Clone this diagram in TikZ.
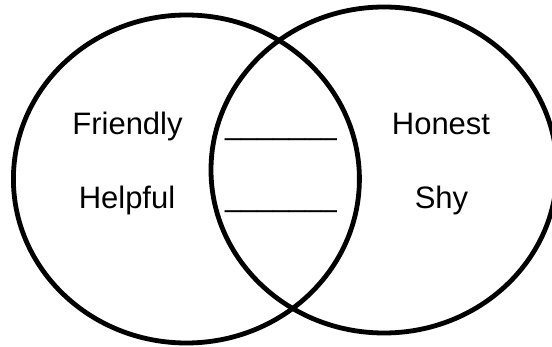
\documentclass[tikz,border=0pt]{standalone}
\usepackage{fontspec}
\setmainfont{Liberation Sans}
\usetikzlibrary{shapes.geometric}
\tikzset{
  setring/.style={ellipse, draw=black, line width=4.8pt, inner sep=0pt, outer sep=0pt},
  label/.style={anchor=base, inner sep=0pt, font=\fontsize{31}{31}\selectfont},
  blank/.style={anchor=base, inner sep=0pt, font=\fontsize{31}{31}\selectfont}
}
\begin{document}
\begin{tikzpicture}[x=1pt, y=-1pt]
  \clip (0,0) rectangle (552,347);
  \fill[white] (0,0) rectangle (552,347);
  \node[setring, minimum width=346pt, minimum height=328pt] (L) at (186.4,179) {};
  \node[setring, minimum width=346pt, minimum height=326pt] (R) at (384,170) {};
  \node[label] (friendly) at (127.5,135) {Friendly};
  \node[label] (helpful) at (127,209) {Helpful};
  \node[label] (honest) at (441,135) {Honest};
  \node[label] (shy) at (441.5,208.5) {Shy};
  \node[blank] (b1) at (281,135) {\scalebox{0.925}[1]{\_\_\_\_\_\_\_}};
  \node[blank] (b2) at (281,207) {\scalebox{0.925}[1]{\_\_\_\_\_\_\_}};
\end{tikzpicture}
\end{document}
